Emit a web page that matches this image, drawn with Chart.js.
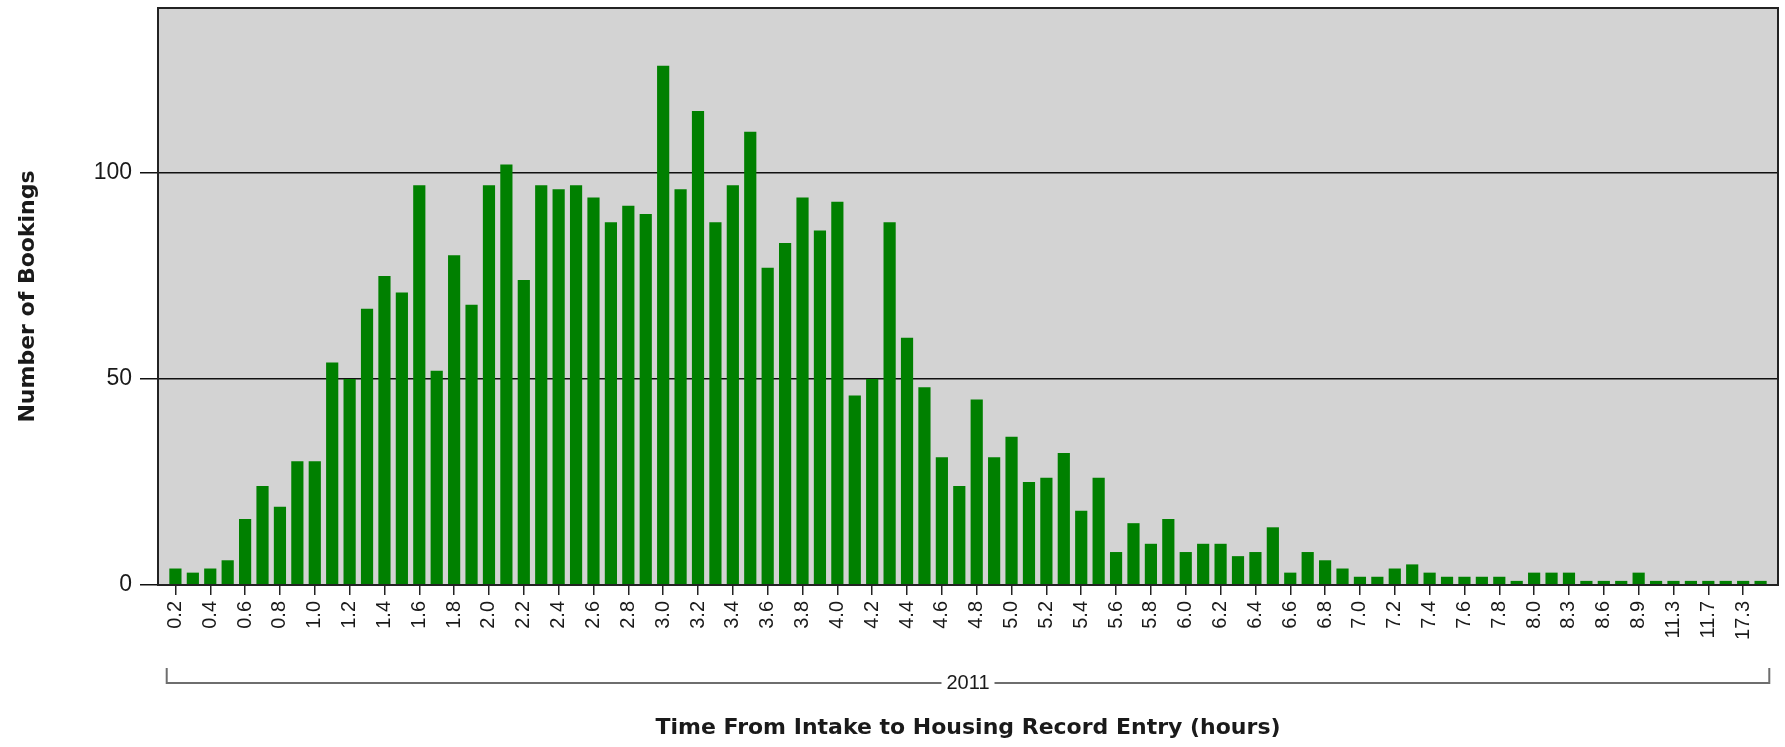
<!DOCTYPE html>
<html>
<head>
<meta charset="utf-8">
<script src="https://cdn.jsdelivr.net/npm/chart.js@4.4.1/dist/chart.umd.min.js"></script>
<style>
  html, body { margin: 0; padding: 0; background: #fff; }
  canvas { display: block; }
</style>
</head>
<body>
<canvas id="myChart" width="1785" height="747"></canvas>
<script>
// categorias (horas) y cantidad de reservas por categoria
const horas = [
  "0.2", "0.3", "0.4", "0.5", "0.6", "0.7", "0.8", "0.9", "1.0", "1.1",
  "1.2", "1.3", "1.4", "1.5", "1.6", "1.7", "1.8", "1.9", "2.0", "2.1",
  "2.2", "2.3", "2.4", "2.5", "2.6", "2.7", "2.8", "2.9", "3.0", "3.1",
  "3.2", "3.3", "3.4", "3.5", "3.6", "3.7", "3.8", "3.9", "4.0", "4.1",
  "4.2", "4.3", "4.4", "4.5", "4.6", "4.7", "4.8", "4.9", "5.0", "5.1",
  "5.2", "5.3", "5.4", "5.5", "5.6", "5.7", "5.8", "5.9", "6.0", "6.1",
  "6.2", "6.3", "6.4", "6.5", "6.6", "6.7", "6.8", "6.9", "7.0", "7.1",
  "7.2", "7.3", "7.4", "7.5", "7.6", "7.7", "7.8", "7.9", "8.0", "8.1",
  "8.3", "8.5", "8.6", "8.8", "8.9", "9.6", "11.3", "11.5", "11.7", "14.2",
  "17.3", "21.4"
];
const reservas = [
  4, 3, 4, 6, 16, 24, 19, 30, 30, 54,
  50, 67, 75, 71, 97, 52, 80, 68, 97, 102,
  74, 97, 96, 97, 94, 88, 92, 90, 126, 96,
  115, 88, 97, 110, 77, 83, 94, 86, 93, 46,
  50, 88, 60, 48, 31, 24, 45, 31, 36, 25,
  26, 32, 18, 26, 8, 15, 10, 16, 8, 10,
  10, 7, 8, 14, 3, 8, 6, 4, 2, 2,
  4, 5, 3, 2, 2, 2, 2, 1, 3, 3,
  3, 1, 1, 1, 3, 1, 1, 1, 1, 1,
  1, 1
];
const grupo = "2011";
const yMax = 140;
const yPaso = 50;

Chart.defaults.font.family = "'Liberation Sans', Arial, sans-serif";
Chart.defaults.color = "#1a1a1a";

// fondo gris, marco y la llave con el año bajo el eje
const decoracion = {
  id: "decoracion",
  beforeDraw(chart) {
    const { ctx, chartArea: a } = chart;
    ctx.save();
    ctx.fillStyle = "#d3d3d3";
    ctx.fillRect(a.left, a.top, a.right - a.left, a.bottom - a.top);
    ctx.restore();
  },
  afterDraw(chart) {
    const { ctx, chartArea: a } = chart;
    const x = chart.scales.x;
    ctx.save();
    ctx.strokeStyle = "#222";
    ctx.lineWidth = 2;
    ctx.strokeRect(a.left, a.top, a.right - a.left, a.bottom - a.top);

    const x0 = x.getPixelForValue(-0.5);
    const x1 = x.getPixelForValue(horas.length - 0.5);
    const yb = a.bottom + 98;
    const cx = (x0 + x1) / 2;
    ctx.font = "20px 'Liberation Sans', Arial, sans-serif";
    const w = ctx.measureText(grupo).width;
    ctx.strokeStyle = "#6e6e6e";
    ctx.lineWidth = 2;
    ctx.beginPath();
    ctx.moveTo(x0, yb - 15);
    ctx.lineTo(x0, yb);
    ctx.lineTo(cx - w / 2 - 5, yb);
    ctx.moveTo(cx + w / 2 + 5, yb);
    ctx.lineTo(x1, yb);
    ctx.lineTo(x1, yb - 15);
    ctx.stroke();
    ctx.fillStyle = "#1a1a1a";
    ctx.textAlign = "center";
    ctx.textBaseline = "middle";
    ctx.fillText(grupo, cx, yb);
    ctx.restore();
  }
};

const config = {
  type: "bar",
  data: {
    datasets: [{
      label: "Number of Bookings",
      data: reservas.map((v, i) => ({ x: i, y: v })),
      backgroundColor: "#008000",
      borderWidth: 0,
      barPercentage: 0.7,
      categoryPercentage: 1
    }]
  },
  options: {
    responsive: false,
    animation: false,
    devicePixelRatio: 1,
    layout: { padding: { top: 8, right: 7, left: 0, bottom: 0 } },
    plugins: { legend: { display: false }, tooltip: { enabled: false } },
    scales: {
      x: {
        type: "linear",
        min: -1,
        max: horas.length,
        offset: false,
        grid: { offset: false, drawOnChartArea: false, drawTicks: true, tickLength: 10, color: "#222", lineWidth: 1.5 },
        border: { display: false },
        afterBuildTicks: (s) => {
          s.ticks = horas.map((h, i) => ({ value: i })).filter((t) => t.value % 2 === 0);
        },
        afterFit: (s) => { s.height = 162; },
        ticks: {
          autoSkip: false,
          minRotation: 90,
          maxRotation: 90,
          padding: 6,
          font: { size: 20 },
          callback: (v) => horas[v] ?? ""
        },
        title: {
          display: true,
          text: "Time From Intake to Housing Record Entry (hours)",
          font: { family: "'DejaVu Sans', sans-serif", size: 22, weight: "bold" },
          padding: { top: 0, bottom: 6 }
        }
      },
      y: {
        min: 0,
        max: yMax,
        grid: { color: "#111", lineWidth: 1.5, tickLength: 18 },
        border: { display: false },
        afterFit: (s) => {
          s.width = 158;
          s.paddingTop = 0;
          s.paddingBottom = 0;
        },
        ticks: { stepSize: yPaso, includeBounds: false, padding: 8, font: { size: 23 } },
        title: {
          display: true,
          text: "Number of Bookings",
          font: { family: "'DejaVu Sans', sans-serif", size: 22, weight: "bold" },
          padding: { top: 15, bottom: 0 }
        }
      }
    }
  },
  plugins: [decoracion]
};

const myChart = new Chart(document.getElementById("myChart"), config);
</script>
</body>
</html>
